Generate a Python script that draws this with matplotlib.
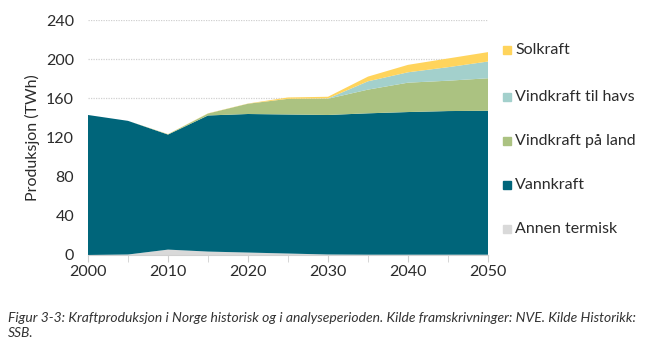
import matplotlib
matplotlib.use("Agg")
import matplotlib.pyplot as plt
from matplotlib.patches import Rectangle

years = [2000, 2005, 2010, 2015, 2020, 2025, 2030, 2035, 2040, 2045, 2050]
annen_termisk = [0, 0.5, 5.5, 3.5, 2.5, 1.5, 0.5, 0.3, 0.3, 0.3, 0.3]
vannkraft = [143, 136.5, 117.5, 139, 141.5, 142, 142.5, 144.4, 145.7, 146.7, 147]
vind_land = [0, 0, 0.3, 2, 10.5, 16, 16.6, 24.2, 30, 31, 33.2]
vind_havs = [0, 0, 0, 0, 0, 0, 0.3, 8.5, 10.6, 13.8, 17.1]
solkraft = [0, 0, 0.2, 0.2, 0.2, 1.4, 1.7, 4.8, 7.6, 8.9, 9.6]

series = [annen_termisk, vannkraft, vind_land, vind_havs, solkraft]
labels = ["Annen termisk", "Vannkraft", "Vindkraft på land", "Vindkraft til havs", "Solkraft"]
colors = ["#d9d9d9", "#00657a", "#abc281", "#a3d0cc", "#ffd45c"]

plt.rcParams['font.family'] = ['Lato', 'DejaVu Sans']
txt = "#2b2b2b"

fig = plt.figure(figsize=(6.61, 3.49), dpi=100)
ax = fig.add_axes([88/661, 1-255/349, 400/661, 235/349])

ax.stackplot(years, *series, colors=colors, linewidth=0)
ax.set_xlim(2000, 2050)
ax.set_ylim(0, 240)
ax.set_yticks(range(0, 241, 40))
ax.set_xticks(range(2000, 2051, 10))
ax.set_xticks(range(2000, 2051, 5), minor=True)
for y in range(40, 241, 40):
    ax.axhline(y, color="#d0d0d0", lw=0.9, ls=(0, (1, 1)), zorder=0)
for s in ["top", "right", "left"]:
    ax.spines[s].set_visible(False)
ax.spines["bottom"].set_color("#d0d0d0")
ax.spines["bottom"].set_zorder(5)
ax.tick_params(axis="y", length=0, labelsize=11.5, colors=txt, pad=10)
ax.tick_params(axis="x", which="both", length=5, color="#d0d0d0", labelsize=11.5, labelcolor=txt, pad=2)
ax.set_ylabel("Produksjon (TWh)", fontsize=11.5, color=txt, labelpad=4)

leg_items = [("Solkraft", colors[4], 50), ("Vindkraft til havs", colors[3], 97),
             ("Vindkraft på land", colors[2], 141), ("Vannkraft", colors[1], 185),
             ("Annen termisk", colors[0], 229)]
for lab, col, ypix in leg_items:
    fig.patches.append(Rectangle((503/661, 1-(ypix+4)/349), 8/661, 8/349,
                                 transform=fig.transFigure, color=col))
    fig.text(515/661, 1-ypix/349, lab, fontsize=11.5, color=txt, va="center", ha="left")

fig.text(8/661, 1-318/349, "Figur 3-3: Kraftproduksjon i Norge historisk og i analyseperioden. Kilde framskrivninger: NVE. Kilde Historikk:",
         fontsize=10, style="italic", color="#333333", va="center", ha="left")
fig.text(8/661, 1-333/349, "SSB.", fontsize=10, style="italic", color="#333333", va="center", ha="left")

fig.savefig("out.png", dpi=100)
